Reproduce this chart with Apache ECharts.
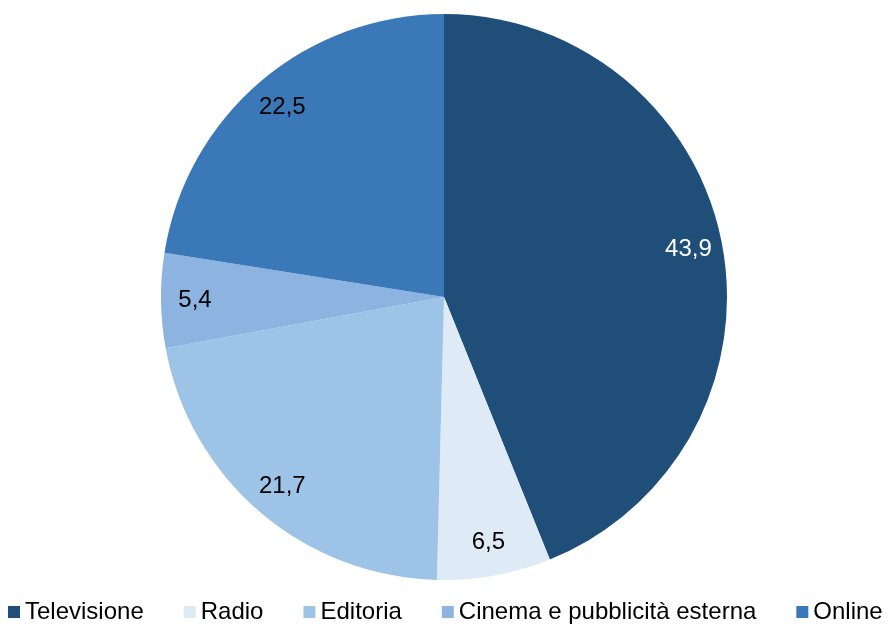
<!DOCTYPE html>
<html>
<head>
<meta charset="utf-8">
<script src="https://cdn.jsdelivr.net/npm/echarts@6/dist/echarts.min.js"></script>
<style>
html,body{margin:0;padding:0;background:#fff;}
#c{width:893px;height:626px;}
</style>
</head>
<body>
<div id="c"></div>
<script>
const categories = ['Televisione', 'Radio', 'Editoria', 'Cinema e pubblicità esterna', 'Online'];
const values = [43.9, 6.5, 21.7, 5.4, 22.5];
const colors = ['#1F4E79', '#DEEBF7', '#9DC3E6', '#8DB3E0', '#3A78B8'];
const labelColors = ['#ffffff', '#000000', '#000000', '#000000', '#000000'];

const FONT = 'Liberation Sans';
const chart = echarts.init(document.getElementById('c'), null, {renderer: 'canvas'});

const mainData = categories.map((n, i) => ({
  name: n, value: values[i], itemStyle: {color: colors[i]}
}));
const labelData = categories.map((n, i) => ({
  name: n, value: values[i],
  itemStyle: {color: 'rgba(0,0,0,0)'},
  label: {color: labelColors[i]}
}));

chart.setOption({
  animation: false,
  backgroundColor: '#ffffff',
  legend: {
    left: 8,
    width: 885,
    padding: 0,
    bottom: 2,
    itemWidth: 12,
    itemHeight: 12,
    itemGap: 40,
    icon: 'rect',
    data: categories,
    textStyle: {fontFamily: FONT, fontSize: 24, color: '#000'},
    selectedMode: false
  },
  series: [
    {
      type: 'pie',
      center: [444, 297],
      radius: [0, 283],
      startAngle: 90,
      clockwise: true,
      label: {show: false},
      labelLine: {show: false},
      itemStyle: {borderWidth: 0},
      emphasis: {disabled: true},
      data: mainData
    },
    {
      type: 'pie',
      center: [444, 297],
      radius: [210, 282],
      startAngle: 90,
      clockwise: true,
      silent: true,
      legendHoverLink: false,
      label: {
        show: true,
        position: 'inside',
        formatter: p => String(p.value).replace('.', ','),
        fontFamily: FONT,
        fontSize: 24
      },
      labelLine: {show: false},
      emphasis: {disabled: true},
      data: labelData
    }
  ]
});
</script>
</body>
</html>
